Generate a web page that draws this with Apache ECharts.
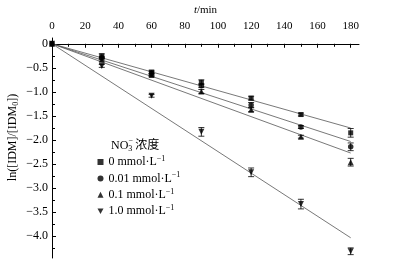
<!DOCTYPE html>
<html>
<head>
<meta charset="utf-8">
<script src="https://cdn.jsdelivr.net/npm/echarts@6/dist/echarts.min.js"></script>
<style>
html,body{margin:0;padding:0;background:#fff;}
#c{width:405px;height:274px;}
</style>
</head>
<body>
<div id="c"></div>
<script>
// ---- data ----
const times = [0, 30, 60, 90, 120, 150, 180];
const names = ['0', '0.01', '0.1', '1.0'];
const val0   = [0, -0.25, -0.59, -0.80, -1.13, -1.47, -1.85];
const val001 = [0, -0.29, -0.62, -0.87, -1.27, -1.73, -2.14];
const val01  = [0, -0.33, -0.65, -0.99, -1.37, -1.93, -2.46];
const val1   = [0, -0.46, -1.08, -1.83, -2.67, -3.33, -4.31];
const err0   = [0, 0.04, 0.04, 0.05, 0.04, 0.03, 0.09];
const err001 = [0, 0.03, 0.04, 0.04, 0.05, 0.03, 0.08];
const err01  = [0, 0.03, 0.03, 0.04, 0.04, 0.03, 0.08];
const err1   = [0, 0.03, 0.03, 0.09, 0.09, 0.10, 0.07];
const fitEnd = [-1.75, -2.03, -2.27, -4.03];
const xTicks = [0, 20, 40, 60, 80, 100, 120, 140, 160, 180];
const xMinor = [10, 30, 50, 70, 90, 110, 130, 150, 170];
const yTicks = [0, -0.5, -1.0, -1.5, -2.0, -2.5, -3.0, -3.5, -4.0];
const yMinor = [-0.25, -0.75, -1.25, -1.75, -2.25, -2.75, -3.25, -3.75, -4.25];

const FONT = '"Liberation Serif", "Times New Roman", serif';
const values = [val0, val001, val01, val1];
const errs = [err0, err001, err01, err1];
const symbols = ['rect', 'circle', 'triangle', 'triangle'];
const rots = [0, 0, 0, 180];
const sizes = [5, 5.5, 6, 6];
const legendIcons = ['rect', 'circle', 'triangle', 'path://M0,0L10,0L5,9Z'];

const series = [];
names.forEach((n, i) => {
  series.push({
    type: 'line', silent: true, symbol: 'none',
    data: [[0, 0], [180, fitEnd[i]]],
    lineStyle: {color: '#555', width: 0.8},
    z: 1
  });
  series.push({
    type: 'custom', silent: true,
    data: times.map((t, k) => [t, values[i][k], errs[i][k]]),
    renderItem: function (params, api) {
      const x = api.value(0), y = api.value(1), e = api.value(2);
      if (!e) return null;
      const p1 = api.coord([x, y + e]);
      const p2 = api.coord([x, y - e]);
      const st = {stroke: '#000', lineWidth: 0.8};
      return {type: 'group', children: [
        {type: 'line', shape: {x1: p1[0], y1: p1[1], x2: p2[0], y2: p2[1]}, style: st},
        {type: 'line', shape: {x1: p1[0] - 3, y1: p1[1], x2: p1[0] + 3, y2: p1[1]}, style: st},
        {type: 'line', shape: {x1: p2[0] - 3, y1: p2[1], x2: p2[0] + 3, y2: p2[1]}, style: st}
      ]};
    },
    z: 2
  });
  series.push({
    name: n, type: 'scatter',
    data: times.map((t, k) => [t, values[i][k]]),
    symbol: symbols[i], symbolRotate: rots[i], symbolSize: sizes[i],
    itemStyle: {color: '#000'},
    z: 3
  });
});

const chart = echarts.init(document.getElementById('c'), null, {renderer: 'canvas'});
chart.setOption({
  animation: false,
  backgroundColor: '#fff',
  textStyle: {fontFamily: FONT},
  grid: {left: 52, right: 46, top: 29, bottom: 16},
  xAxis: [{
    type: 'value', position: 'top', min: 0, max: 185,
    name: '{i|t}/min', nameLocation: 'middle', nameGap: 22,
    nameTextStyle: {fontFamily: FONT, fontSize: 11, color: '#000',
      rich: {i: {fontStyle: 'italic', fontFamily: FONT, fontSize: 11, color: '#000'}}},
    axisLine: {lineStyle: {color: '#000', width: 1}},
    axisTick: {inside: true, length: 4, customValues: xTicks, lineStyle: {color: '#000'}},
    axisLabel: {customValues: xTicks, margin: 6, fontFamily: FONT, fontSize: 11, color: '#000'},
    splitLine: {show: false}
  }, {
    type: 'value', position: 'top', min: 0, max: 185,
    axisLine: {show: false},
    axisTick: {inside: true, length: 3, customValues: xMinor, lineStyle: {color: '#000'}},
    axisLabel: {show: false},
    splitLine: {show: false}
  }],
  yAxis: [{
    type: 'value', min: -4.45, max: 0.12,
    axisLine: {show: true, lineStyle: {color: '#000', width: 1}},
    axisTick: {show: true, inside: true, length: 4, customValues: yTicks, lineStyle: {color: '#000'}},
    axisLabel: {customValues: yTicks, margin: 4, fontFamily: FONT, fontSize: 12, color: '#000',
      formatter: v => (Math.abs(v) < 1e-9 ? '0' : v.toFixed(1).replace('-', '\u2212'))},
    splitLine: {show: false}
  }, {
    type: 'value', min: -4.45, max: 0.12, position: 'left',
    axisLine: {show: false},
    axisTick: {show: true, inside: true, length: 3, customValues: yMinor, lineStyle: {color: '#000'}},
    axisLabel: {show: false},
    splitLine: {show: false}
  }],
  legend: {
    orient: 'vertical', left: 97.5, top: 155, padding: 0,
    itemWidth: 6, itemHeight: 6, itemGap: 2.4,
    data: names.map((n, i) => ({name: n, icon: legendIcons[i]})),
    formatter: n => n + ' mmol\u00b7L{sp|\u22121}',
    textStyle: {fontFamily: FONT, fontSize: 12, color: '#000', lineHeight: 14,
      rich: {sp: {fontFamily: FONT, fontSize: 8, color: '#000', verticalAlign: 'top', lineHeight: 14, padding: [0, 0, 6, 0]}}},
    itemStyle: {color: '#000'},
    selectedMode: false
  },
  graphic: [{
    type: 'text', x: 13, y: 137.5, rotation: Math.PI / 2,
    style: {
      text: 'ln([IDM]/[IDM{s|0}])',
      fontFamily: FONT, fontSize: 12, fill: '#000', align: 'center', verticalAlign: 'middle',
      rich: {s: {fontFamily: FONT, fontSize: 8, fill: '#000', padding: [5, 0, 0, 0]}}
    }
  }, {
    type: 'text', x: 111, y: 146,
    style: {
      text: 'NO{s|3} \u6d53\u5ea6',
      fontFamily: FONT + ', "Noto Sans CJK SC"', fontSize: 12, fill: '#000', align: 'left', verticalAlign: 'middle',
      rich: {s: {fontFamily: FONT, fontSize: 8, fill: '#000', padding: [6, 0, 0, 0]}}
    }
  }, {
    type: 'text', x: 128.5, y: 141,
    style: {text: '\u2212', fontFamily: FONT, fontSize: 8, fill: '#000', align: 'left', verticalAlign: 'middle'}
  }],
  series: series
});
</script>
</body>
</html>
